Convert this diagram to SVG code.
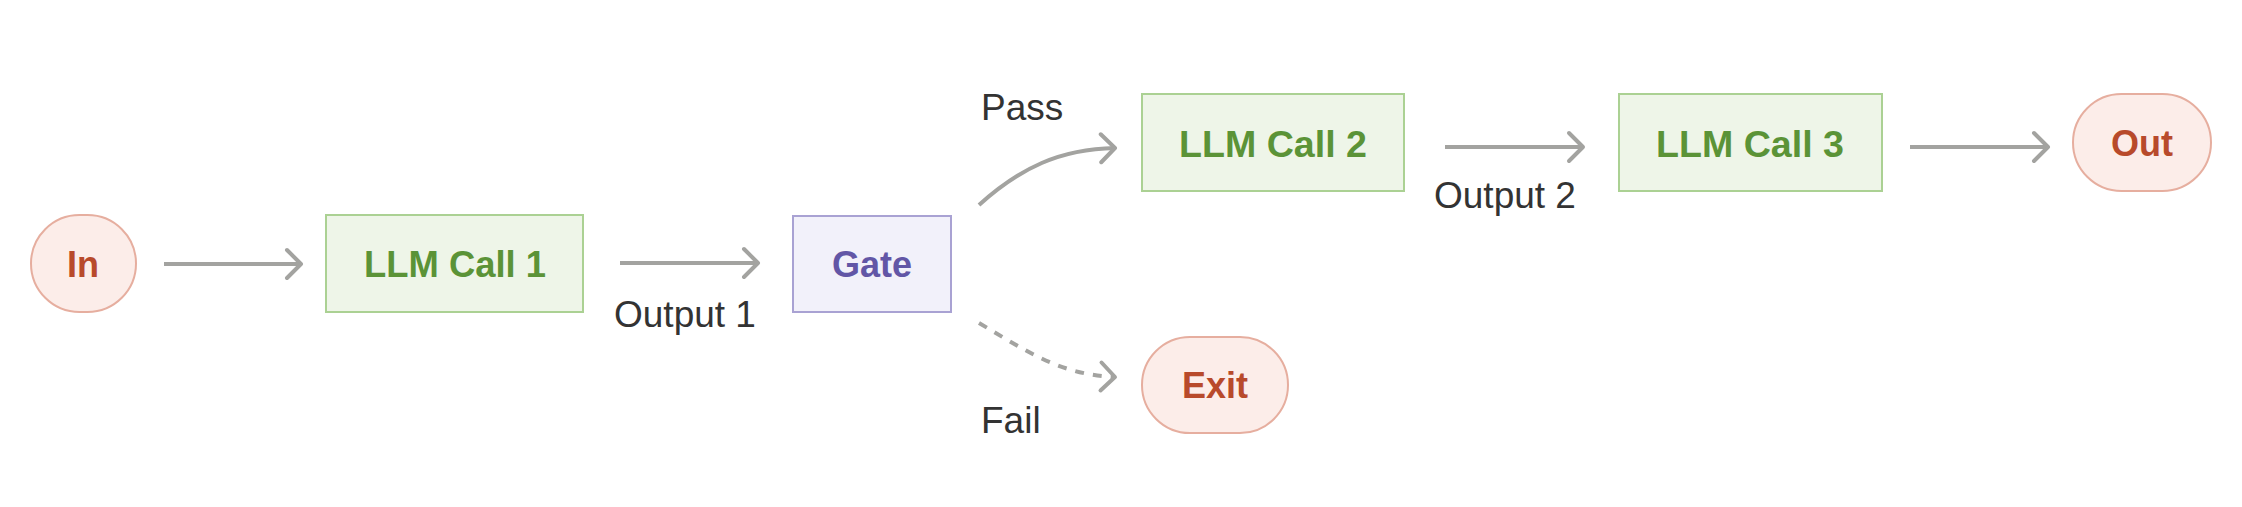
<svg xmlns="http://www.w3.org/2000/svg" width="2242" height="507" viewBox="0 0 2242 507">
<style>
.term rect{fill:#FCEDE9;stroke:#E6AE9F;stroke-width:2}
.term text{fill:#B84A2B}
.llm rect{fill:#EEF5E8;stroke:#ABD193;stroke-width:2}
.llm text{fill:#5B9337}
.gate rect{fill:#F2F1FA;stroke:#A9A2D3;stroke-width:2}
.gate text{fill:#6256A6}
.node text{font-family:"Liberation Sans",Arial,sans-serif;font-weight:bold;font-size:36px;text-anchor:middle}
.lbl{font-family:"Liberation Sans",Arial,sans-serif;font-size:37px;fill:#333333}
.conn{fill:none;stroke:#A3A3A0;stroke-width:4;marker-end:url(#arr)}
.dash{stroke-dasharray:9 9}
</style>
<defs>
<marker id="arr" viewBox="0 0 20 34" refX="17" refY="17" markerWidth="20" markerHeight="34" markerUnits="userSpaceOnUse" orient="auto">
<path d="M3,3 L17,17 L3,31" fill="none" stroke="#A3A3A0" stroke-width="4" stroke-linecap="round" stroke-linejoin="round"/>
</marker>
</defs>
<rect width="2242" height="507" fill="#FFFFFF"/>
<g id="connectors">
<path class="conn" d="M164,264 L301,264"/>
<path class="conn" d="M620,263 L758,263"/>
<path class="conn" d="M979,205 C1020,168 1060,149 1115,148"/>
<path class="conn dash" d="M979,323 C1025,350 1060,375 1115,377"/>
<path class="conn" d="M1445,147 L1583,147"/>
<path class="conn" d="M1910,147 L2048,147"/>
</g>
<g id="labels">
<text class="lbl" x="614" y="327">Output 1</text>
<text class="lbl" x="981" y="120">Pass</text>
<text class="lbl" x="981" y="433">Fail</text>
<text class="lbl" x="1434" y="208">Output 2</text>
</g>
<g id="in" class="node term">
<rect x="31" y="215" width="105" height="97" rx="48.5" ry="48.5"/>
<text x="83" y="277">In</text>
</g>
<g id="llm1" class="node llm">
<rect x="326" y="215" width="257" height="97"/>
<text x="455" y="277" textLength="182" lengthAdjust="spacingAndGlyphs">LLM Call 1</text>
</g>
<g id="gate" class="node gate">
<rect x="793" y="216" width="158" height="96"/>
<text x="872" y="277">Gate</text>
</g>
<g id="llm2" class="node llm">
<rect x="1142" y="94" width="262" height="97"/>
<text x="1273" y="157" textLength="188" lengthAdjust="spacingAndGlyphs">LLM Call 2</text>
</g>
<g id="exit" class="node term">
<rect x="1142" y="337" width="146" height="96" rx="48" ry="48"/>
<text x="1215" y="398">Exit</text>
</g>
<g id="llm3" class="node llm">
<rect x="1619" y="94" width="263" height="97"/>
<text x="1750" y="157" textLength="188" lengthAdjust="spacingAndGlyphs">LLM Call 3</text>
</g>
<g id="out" class="node term">
<rect x="2073" y="94" width="138" height="97" rx="48.5" ry="48.5"/>
<text x="2142" y="156">Out</text>
</g>
</svg>
